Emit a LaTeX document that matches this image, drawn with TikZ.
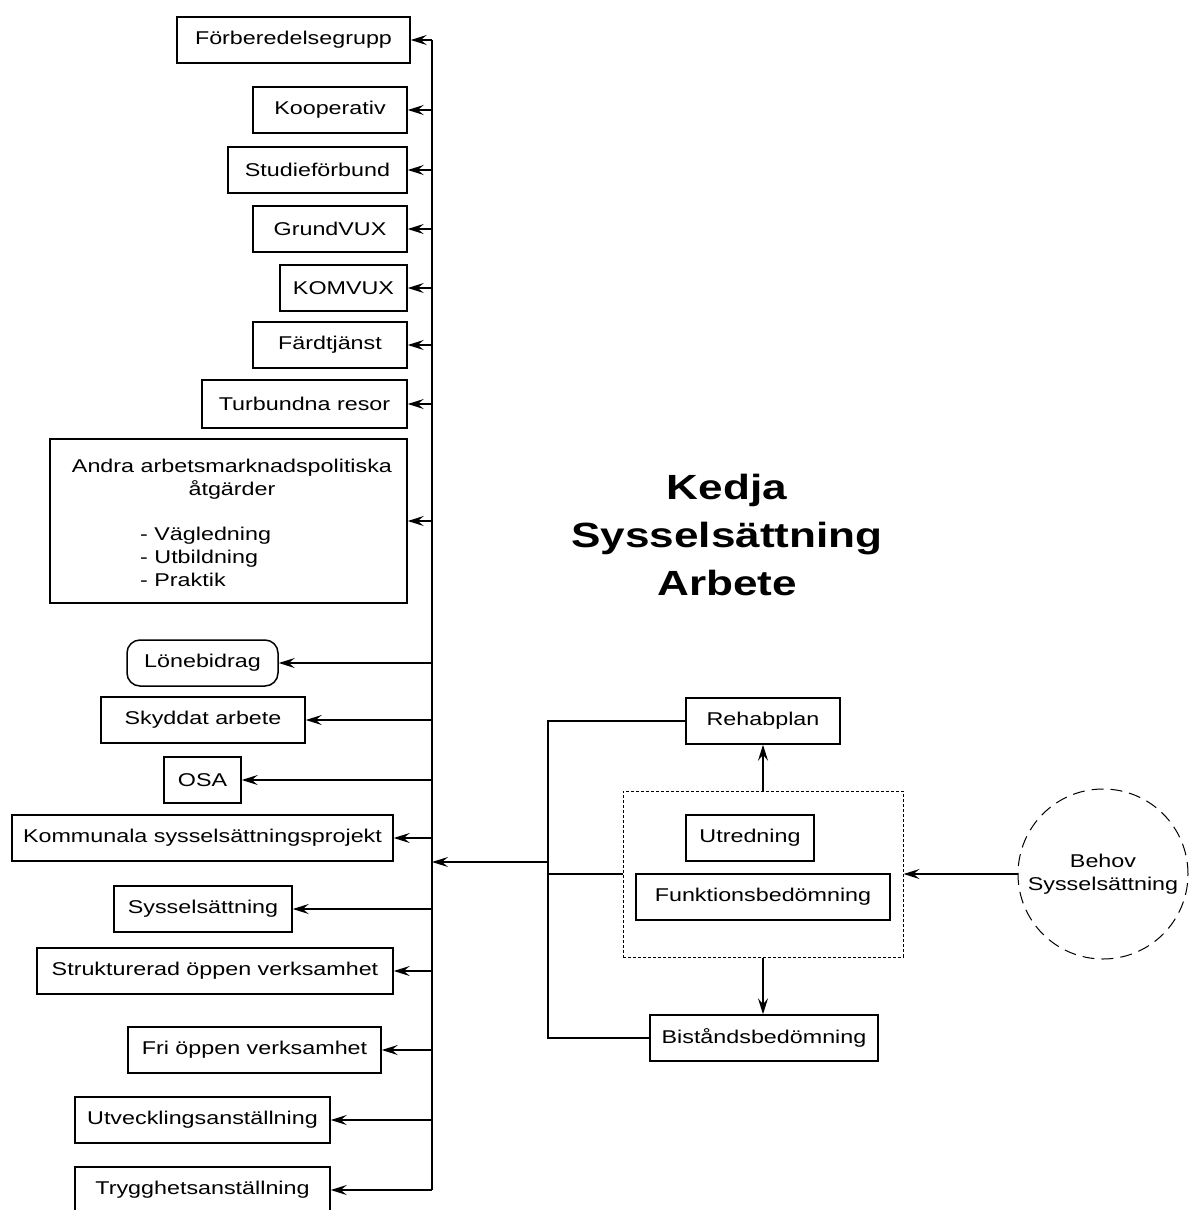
\documentclass[tikz,border=0pt]{standalone}
\usepackage{fontspec}
\setmainfont[FakeStretch=1.26]{Liberation Sans}
\usetikzlibrary{arrows.meta}
\begin{document}
\begin{tikzpicture}[x=1pt,y=-1pt,
  every node/.style={font=\fontsize{18.5}{23}\selectfont},
  box/.style={draw,line width=1.5pt,inner sep=0pt},
  wire/.style={line width=1.5pt},
  arr/.style={wire,-{Stealth[length=16pt,width=10pt,inset=6pt]}},
  titletext/.style={align=center,font=\fontsize{35}{48}\selectfont\bfseries}]
\useasboundingbox (0,0) rectangle (1190,1210);

% column of measures on the left
\node[box,minimum width=233,minimum height=46] (forb)   at (293.5,40)   {Förberedelsegrupp};
\node[box,minimum width=154,minimum height=46] (koop)   at (330,110)    {Kooperativ};
\node[box,minimum width=179,minimum height=46] (stud)   at (317.5,170)  {Studieförbund};
\node[box,minimum width=154,minimum height=46] (grund)  at (330,229)    {GrundVUX};
\node[box,minimum width=127,minimum height=46] (komvux) at (343.5,288)  {KOMVUX};
\node[box,minimum width=154,minimum height=46] (fard)   at (330,345)    {Färdtjänst};
\node[box,minimum width=205,minimum height=48] (tur)    at (304.5,404)  {Turbundna resor};
\node[box,minimum width=357,minimum height=164] (andra) at (228.5,521) {};
\node[align=center] (andrahead) at (232,479) {Andra arbetsmarknadspolitiska\\åtgärder};
\node[align=left,anchor=west,inner sep=0pt] (andralist) at (140,557) {- Vägledning\\- Utbildning\\- Praktik};
\node[box,rounded corners=13pt,minimum width=151,minimum height=46] (lone) at (202.5,663) {Lönebidrag};
\node[box,minimum width=204,minimum height=46] (skydd)  at (203,720)    {Skyddat arbete};
\node[box,minimum width=77,minimum height=46]  (osa)    at (202.5,780)  {OSA};
\node[box,minimum width=381,minimum height=46] (komm)   at (202.5,838)  {Kommunala sysselsättningsprojekt};
\node[box,minimum width=178,minimum height=46] (syss)   at (203,909)    {Sysselsättning};
\node[box,minimum width=356,minimum height=46] (strukt) at (215,971)    {Strukturerad öppen verksamhet};
\node[box,minimum width=253,minimum height=46] (fri)    at (254.5,1050) {Fri öppen verksamhet};
\node[box,minimum width=255,minimum height=46] (utv)    at (202.5,1120) {Utvecklingsanställning};
\node[box,minimum width=255,minimum height=46] (trygg)  at (202.5,1190) {Trygghetsanställning};

% distribution bus
\coordinate (bus) at (432,0);
\draw[wire] (forb.east -| bus) -- (trygg.east -| bus);
\foreach \n in {forb,koop,stud,grund,komvux,fard,tur,andra,lone,skydd,osa,komm,syss,strukt,fri,utv,trygg}
  \draw[arr] (\n.east -| bus) -- (\n.east);

% title
\node[titletext] (title) at (727,535) {Kedja\\Sysselsättning\\Arbete};

% assessment chain on the right
\node[box,minimum width=154,minimum height=46] (rehab) at (763,721) {Rehabplan};
\node[draw,dash pattern=on 3pt off 2pt,line width=1pt,minimum width=280,minimum height=166,inner sep=0pt] (fb) at (763,874) {};
\node[box,minimum width=128,minimum height=46] (utred) at (750,838) {Utredning};
\node[box,minimum width=254,minimum height=46] (funk)  at (763,897) {Funktionsbedömning};
\node[box,minimum width=228,minimum height=46] (bist)  at (764,1038) {Biståndsbedömning};
\node[draw,circle,dash pattern=on 12pt off 7pt,line width=1pt,minimum size=170,align=center] (behov) at (1103,874) {Behov\\Sysselsättning};

\draw[arr] (fb.north) -- (rehab.south);
\draw[arr] (fb.south) -- (fb.south |- bist.north);
\draw[arr] (behov.west) -- (fb.east);

\coordinate (jn) at (548,862);
\draw[wire] (rehab.west) -- (rehab.west -| jn) -- (bist.west -| jn) -- (bist.west);
\draw[wire] (fb.west) -- (fb.west -| jn);
\draw[arr] (jn) -- (jn -| bus);
\end{tikzpicture}
\end{document}
